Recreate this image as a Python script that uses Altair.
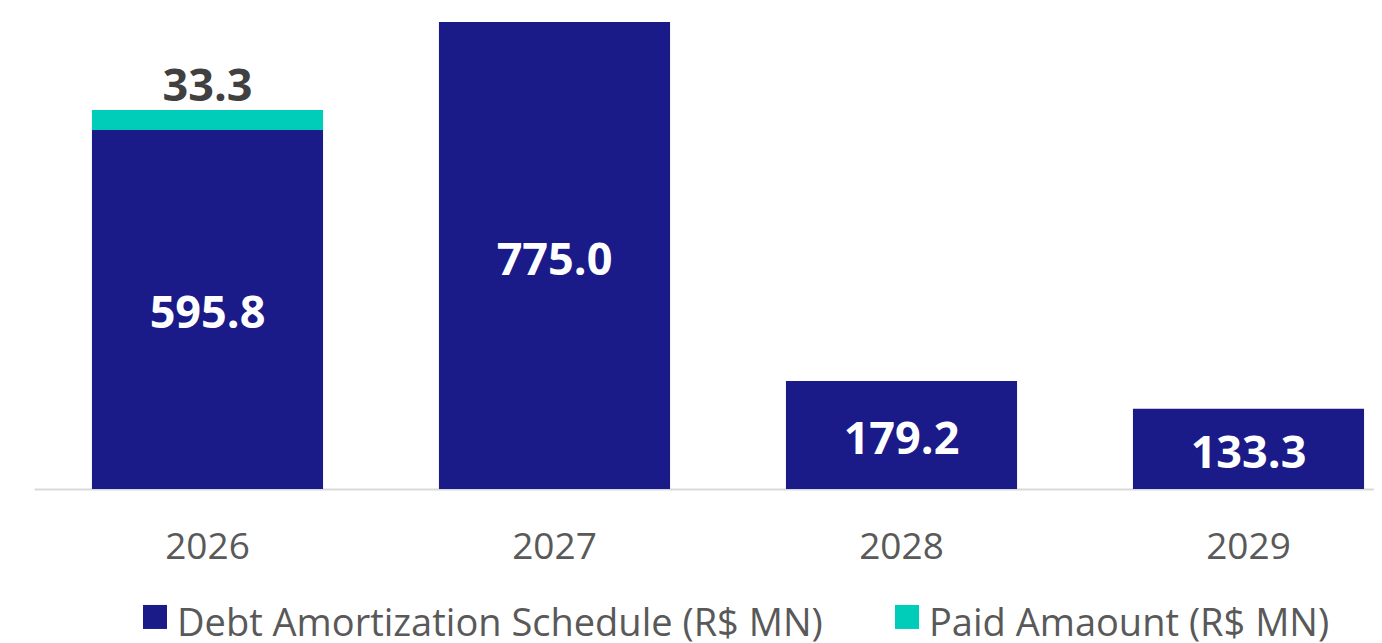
import altair as alt
import pandas as pd

years = ["2026", "2027", "2028", "2029"]
schedule = [595.8, 775.0, 179.2, 133.3]
paid = [33.3, 0.0, 0.0, 0.0]
series_names = ["Debt Amortization Schedule (R$ MN)", "Paid Amaount (R$ MN)"]
colors = ["#1A1A88", "#00CDB9"]

rows = []
for y, s, p in zip(years, schedule, paid):
    rows.append({"year": y, "series": series_names[0], "value": s, "order": 0})
    if p > 0:
        rows.append({"year": y, "series": series_names[1], "value": p, "order": 1})
df = pd.DataFrame(rows)

inner = pd.DataFrame({"year": years, "mid": [s / 2 for s in schedule],
                      "label": [f"{s:.1f}" for s in schedule]})
top = pd.DataFrame({"year": [y for y, p in zip(years, paid) if p > 0],
                    "tot": [s + p for s, p in zip(schedule, paid) if p > 0],
                    "label": [f"{p:.1f}" for p in paid if p > 0]})

xscale = alt.Scale(paddingInner=0.334, range=[0, 1388])
xenc = alt.X("year:N", title=None, scale=xscale,
             axis=alt.Axis(labelAngle=0, ticks=False, domainColor="#D9D9D9",
                           domainWidth=2, labelFont="Open Sans", labelFontSize=37,
                           labelColor="#595959", labelPadding=40, grid=False))
yscale = alt.Scale(domain=[0, 775], nice=False)

bars = alt.Chart(df).mark_bar().encode(
    x=xenc,
    y=alt.Y("value:Q", stack="zero", scale=yscale, axis=None),
    order=alt.Order("order:Q"),
    color=alt.Color("series:N", scale=alt.Scale(domain=series_names, range=colors),
                    legend=alt.Legend(title=None, orient="none", direction="horizontal",
                                      legendX=102, legendY=584, padding=0,
                                      symbolType="M-1,-1.67H1V0.33H-1Z", symbolSize=576,
                                      symbolStrokeWidth=0, symbolOpacity=1,
                                      labelFont="Open Sans", labelFontSize=38,
                                      labelColor="#595959", labelOffset=3,
                                      columnPadding=65, labelLimit=800)),
)

t_inner = alt.Chart(inner).mark_text(font="Open Sans", fontWeight="bold", fontSize=45,
                                     color="white", baseline="middle", dy=5).encode(
    x=alt.X("year:N", scale=xscale), y=alt.Y("mid:Q", scale=yscale), text="label:N")

t_top = alt.Chart(top).mark_text(font="Open Sans", fontWeight="bold", fontSize=45,
                                 color="#404040", baseline="bottom", dy=0).encode(
    x=alt.X("year:N", scale=xscale), y=alt.Y("tot:Q", scale=yscale), text="label:N")

chart = alt.layer(bars, t_inner, t_top).properties(
    width=1340, height=467,
    autosize=alt.AutoSizeParams(type="none"),
    padding={"left": 26, "top": 14, "right": 0, "bottom": 160},
).configure(background="white").configure_view(stroke=None)

chart.save("out.html", embed_options={"renderer": "svg", "actions": False})
